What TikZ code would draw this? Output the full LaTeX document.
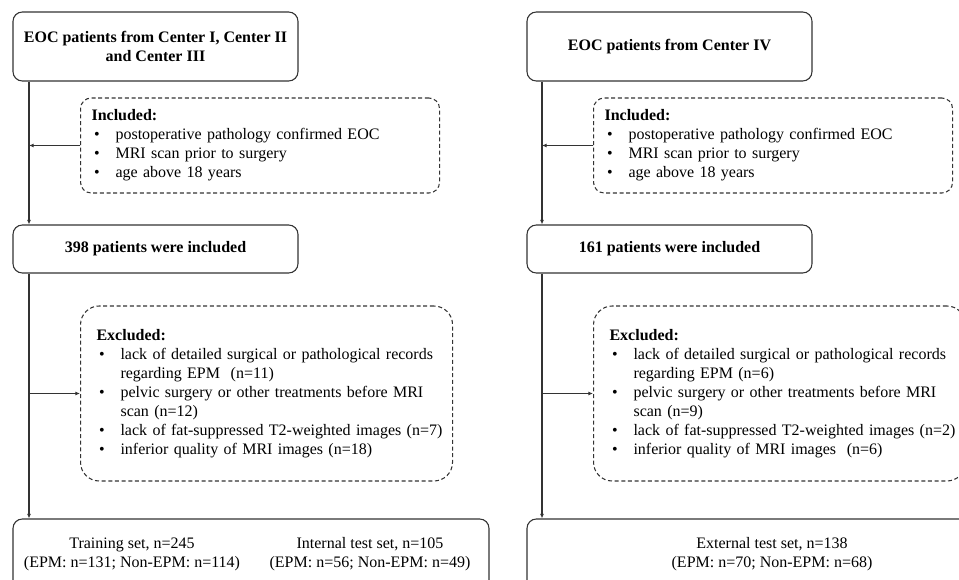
\documentclass[tikz,border=0pt]{standalone}
\usepackage{fontspec}
\setmainfont{Liberation Serif}
\usetikzlibrary{arrows.meta,positioning}

\newcommand{\itm}[1]{\mbox{\makebox[18pt][l]{\hspace{2pt}\textbullet}#1}}
\newcommand{\cont}[1]{\mbox{\hspace*{18pt}#1}}

\begin{document}
\begin{tikzpicture}[
  x=0.75pt, y=-0.75pt,
  font=\fontsize{12pt}{14.25pt}\selectfont,
  box/.style={draw=black!80, line width=0.8pt, rounded corners=7pt, align=center, inner sep=0pt},
  headbox/.style={box, minimum width=213.75pt, minimum height=51.75pt, font=\fontsize{12pt}{14.25pt}\selectfont\bfseries},
  countbox/.style={headbox, minimum height=36pt},
  crit/.style={draw=black!80, dash pattern=on 3pt off 2pt, line width=0.8pt, align=left, anchor=west},
  inclbox/.style={crit, rounded corners=8pt, text width=252.75pt, inner xsep=8.25pt, inner ysep=0pt, minimum height=71.25pt},
  exclbox/.style={crit, rounded corners=14pt, text width=255pt, inner xsep=12pt, inner ysep=0pt, minimum height=131.25pt},
  setbox/.style={box, minimum height=53.25pt},
  arrow/.style={-{Latex[length=3.5pt,width=3pt]}, line width=0.8pt, black!80}
]
\useasboundingbox (0,0) rectangle (959,580);
\clip (0,0) rectangle (959,580);

\coordinate (spineA) at (29,0);
\coordinate (spineB) at (542,0);

\node[headbox] (srcA) at (155.5,46.5) {EOC patients from Center I, Center II\\and Center III};
\node[headbox] (srcB) at (669.5,46.5) {EOC patients from Center IV};

\node[inclbox] (inclA) at (80,145.5) {
  \textbf{Included:}\\
  \itm{postoperative pathology confirmed EOC}\\
  \itm{MRI scan prior to surgery}\\
  \itm{age above 18 years}
};
\node[inclbox] (inclB) at (593,145.5) {
  \textbf{Included:}\\
  \itm{postoperative pathology confirmed EOC}\\
  \itm{MRI scan prior to surgery}\\
  \itm{age above 18 years}
};

\node[countbox] (keptA) at (155.5,249) {398 patients were included};
\node[countbox] (keptB) at (669.5,249) {161 patients were included};

\node[exclbox] (exclA) at (80,393.5) {
  \textbf{Excluded:}\\
  \itm{lack of detailed surgical or pathological records}\\
  \cont{regarding EPM\ \ (n=11)}\\
  \itm{pelvic surgery or other treatments before MRI}\\
  \cont{scan (n=12)}\\
  \itm{lack of fat-suppressed T2-weighted images (n=7)}\\
  \itm{inferior quality of MRI images (n=18)}
};
\node[exclbox] (exclB) at (593,393.5) {
  \textbf{Excluded:}\\
  \itm{lack of detailed surgical or pathological records}\\
  \cont{regarding EPM (n=6)}\\
  \itm{pelvic surgery or other treatments before MRI}\\
  \cont{scan (n=9)}\\
  \itm{lack of fat-suppressed T2-weighted images (n=2)}\\
  \itm{inferior quality of MRI images\ \ (n=6)}
};

\node[setbox, minimum width=357pt] (setA) at (251,554.5) {
  \makebox[178.5pt]{Training set, n=245}\makebox[178.5pt]{Internal test set, n=105}\\
  \makebox[178.5pt]{(EPM: n=131; Non-EPM: n=114)}\makebox[178.5pt]{(EPM: n=56; Non-EPM: n=49)}
};
\node[setbox, minimum width=367.5pt] (setB) at (772,554.5) {
  External test set, n=138\\
  (EPM: n=70; Non-EPM: n=68)
};

\draw[arrow] (srcA.south -| spineA) -- (keptA.north -| spineA);
\draw[arrow] (inclA.west) -- (inclA.west -| spineA);
\draw[arrow] (keptA.south -| spineA) -- (setA.north -| spineA);
\draw[arrow] (exclA.west -| spineA) -- (exclA.west);

\draw[arrow] (srcB.south -| spineB) -- (keptB.north -| spineB);
\draw[arrow] (inclB.west) -- (inclB.west -| spineB);
\draw[arrow] (keptB.south -| spineB) -- (setB.north -| spineB);
\draw[arrow] (exclB.west -| spineB) -- (exclB.west);

\end{tikzpicture}
\end{document}
